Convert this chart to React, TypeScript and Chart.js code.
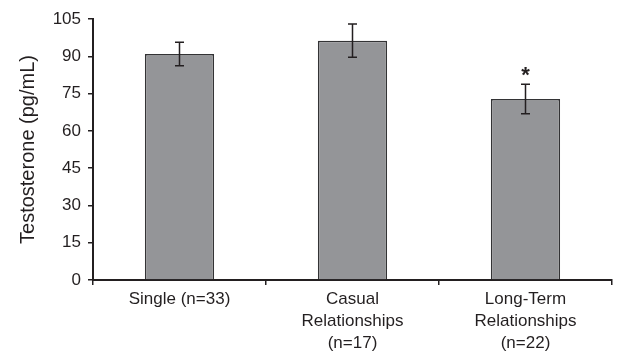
import React, { useEffect, useRef } from "react";
import { Chart, registerables } from "chart.js";

Chart.register(...registerables);

const categories: string[][] = [
  ["Single (n=33)"],
  ["Casual", "Relationships", "(n=17)"],
  ["Long-Term", "Relationships", "(n=22)"],
];
const means: number[] = [90.9, 96.3, 72.8];
const errors: number[] = [4.7, 6.7, 5.9];
const markers: string[] = ["", "", "*"];
const yTicks: number[] = [0, 15, 30, 45, 60, 75, 90, 105];

const FONT = "'Liberation Sans', Arial, Helvetica, sans-serif";

const errorBarPlugin = {
  id: "errorBars",
  afterDatasetsDraw(chart: any) {
    const { ctx, scales } = chart;
    const meta = chart.getDatasetMeta(0);
    const ys = scales.y;
    ctx.save();
    ctx.strokeStyle = "#231f20";
    ctx.lineWidth = 1.5;
    meta.data.forEach((bar: any, i: number) => {
      const x = bar.x;
      const top = ys.getPixelForValue(means[i] + errors[i]);
      const bot = ys.getPixelForValue(means[i] - errors[i]);
      const cap = 4.5;
      ctx.beginPath();
      ctx.moveTo(x, top);
      ctx.lineTo(x, bot);
      ctx.moveTo(x - cap, top);
      ctx.lineTo(x + cap, top);
      ctx.moveTo(x - cap, bot);
      ctx.lineTo(x + cap, bot);
      ctx.stroke();
      if (markers[i]) {
        ctx.fillStyle = "#231f20";
        ctx.font = `bold 22px ${FONT}`;
        ctx.textAlign = "center";
        ctx.textBaseline = "middle";
        ctx.fillText(markers[i], x, top - 8);
      }
    });
    ctx.restore();
  },
};

export default function App() {
  const ref = useRef<HTMLCanvasElement>(null);
  useEffect(() => {
    if (!ref.current) return;
    const chart = new Chart(ref.current, {
      type: "bar",
      data: {
        labels: categories,
        datasets: [
          {
            data: means,
            backgroundColor: "#949598",
            borderColor: "#333335",
            borderWidth: 1.5,
            barPercentage: 0.4,
            categoryPercentage: 1,
          },
        ],
      },
      options: {
        animation: false,
        responsive: false,
        maintainAspectRatio: false,
        layout: { padding: { top: 19, right: 30, left: 0, bottom: 0 } },
        plugins: { legend: { display: false }, tooltip: { enabled: false } },
        scales: {
          x: {
            grid: {
              display: true,
              drawOnChartArea: false,
              drawTicks: true,
              tickLength: 5,
              color: "#231f20",
              lineWidth: 1.5,
              offset: true,
            },
            border: { display: true, color: "#231f20", width: 2 },
            ticks: {
              color: "#231f20",
              font: { family: FONT, size: 17, lineHeight: 1.3 },
              padding: 3,
              maxRotation: 0,
              autoSkip: false,
            },
            afterFit(scale: any) {
              scale.height = 76;
            },
          },
          y: {
            min: 0,
            max: 105,
            afterBuildTicks(scale: any) {
              scale.ticks = yTicks.map((v) => ({ value: v }));
            },
            grid: {
              display: true,
              drawOnChartArea: false,
              drawTicks: true,
              tickLength: 5,
              color: "#231f20",
              lineWidth: 1.5,
            },
            border: { display: true, color: "#231f20", width: 2 },
            ticks: {
              color: "#231f20",
              font: { family: FONT, size: 17 },
              padding: 7,
            },
            title: {
              display: true,
              text: "Testosterone (pg/mL)",
              color: "#231f20",
              font: { family: FONT, size: 20 },
              padding: { top: 16, bottom: 0 },
            },
            afterFit(scale: any) {
              scale.width = 93;
            },
          },
        },
      },
      plugins: [errorBarPlugin],
    });
    return () => chart.destroy();
  }, []);
  return (
    <div style={{ position: "fixed", left: 0, top: 0, width: 642, height: 356, background: "#fff" }}>
      <canvas ref={ref} width={642} height={356} />
    </div>
  );
}
